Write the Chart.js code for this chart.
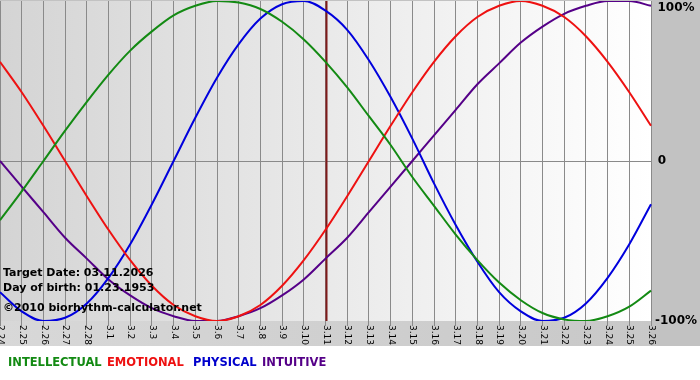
<!DOCTYPE html>
<html>
<head>
<meta charset="utf-8">
<script src="https://cdn.jsdelivr.net/npm/chart.js@4/dist/chart.umd.min.js"></script>
<style>
  html, body { margin: 0; padding: 0; background: #fff; }
  #wrap { width: 700px; height: 380px; }
</style>
</head>
<body>
<div id="wrap"><canvas id="bioChart" width="700" height="380"></canvas></div>
<script>
// days shown on the x axis (month.day)
const days = [
  '2.24', '2.25', '2.26', '2.27', '2.28',
  '3.1', '3.2', '3.3', '3.4', '3.5', '3.6', '3.7', '3.8', '3.9', '3.10',
  '3.11', '3.12', '3.13', '3.14', '3.15', '3.16', '3.17', '3.18', '3.19',
  '3.20', '3.21', '3.22', '3.23', '3.24', '3.25', '3.26'
];
const targetDay = '3.11';

// cycle values in percent, one per day
const intellectual = [-37, -19, 0, 19, 37, 54, 69, 81, 91, 97, 100, 99, 95, 87, 76,
  62, 46, 28, 10, -10, -28, -46, -62, -76, -87, -95, -99, -100, -97, -91, -81];
const emotional = [62, 43, 22, 0, -22, -43, -62, -78, -90, -97, -100, -97, -90, -78, -62,
  -43, -22, 0, 22, 43, 62, 78, 90, 97, 100, 97, 90, 78, 62, 43, 22];
const physical = [-82, -94, -100, -98, -89, -73, -52, -27, 0, 27, 52, 73, 89, 98, 100,
  94, 82, 63, 40, 14, -14, -40, -63, -82, -94, -100, -98, -89, -73, -52, -27];
const intuitive = [0, -16, -32, -48, -61, -74, -84, -92, -97, -100, -100, -97, -92, -84, -74,
  -61, -48, -32, -16, 0, 16, 32, 48, 61, 74, 84, 92, 97, 100, 100, 97];

const yTicks = [-100, 0, 100];
const yTickText = { '-100': '-100%', '0': '0', '100': '100%' };

const infoLines = ['Target Date: 03.11.2026', 'Day of birth: 01.23.1953', '\u00a92010 biorhythm-calculator.net'];
const legendItems = [
  { text: 'INTELLECTUAL', color: '#138a13', x: 8 },
  { text: 'EMOTIONAL', color: '#ee1111', x: 107 },
  { text: 'PHYSICAL', color: '#0000cc', x: 193 },
  { text: 'INTUITIVE', color: '#550088', x: 262 }
];

const fam = '"DejaVu Sans", Verdana, sans-serif';

const decor = {
  id: 'decor',
  beforeDraw(chart) {
    const { ctx, chartArea: a } = chart;
    ctx.save();
    ctx.fillStyle = '#ffffff';
    ctx.fillRect(0, 0, chart.width, chart.height);
    // grey frame behind axis labels
    ctx.fillStyle = '#c2c2c2';
    ctx.fillRect(0, 0, chart.width, 346);
    // label band under the plot
    const band = ctx.createLinearGradient(0, 0, a.right, 0);
    band.addColorStop(0, '#d8d8d8');
    band.addColorStop(1, '#c8c8c8');
    ctx.fillStyle = band;
    ctx.fillRect(0, a.bottom, a.right, 346 - a.bottom);
    // plot background
    const g = ctx.createLinearGradient(a.left, 0, a.right, 0);
    g.addColorStop(0, '#d4d4d4');
    g.addColorStop(1, '#ffffff');
    ctx.fillStyle = g;
    ctx.fillRect(a.left, a.top, a.right - a.left, a.bottom - a.top);
    ctx.restore();
  },
  beforeDatasetsDraw(chart) {
    const { ctx, chartArea: a, scales: { x } } = chart;
    const px = Math.round(x.getPixelForValue(days.indexOf(targetDay))) + 0.5;
    ctx.save();
    ctx.strokeStyle = '#7e1a1a';
    ctx.lineWidth = 2;
    ctx.beginPath();
    ctx.moveTo(px, a.top);
    ctx.lineTo(px, a.bottom);
    ctx.stroke();
    ctx.restore();
  },
  afterDraw(chart) {
    const { ctx, chartArea: a, scales: { x, y } } = chart;
    ctx.save();
    // rotated day labels
    ctx.fillStyle = '#000';
    ctx.font = '9px ' + fam;
    ctx.textAlign = 'left';
    ctx.textBaseline = 'middle';
    days.forEach((d, i) => {
      ctx.save();
      ctx.translate(x.getPixelForValue(i) + 0.5, a.bottom + 4);
      ctx.rotate(Math.PI / 2);
      ctx.fillText(d, 0, 0);
      ctx.restore();
    });
    // y labels, centred in the right margin
    ctx.font = 'bold 12px ' + fam;
    ctx.textAlign = 'center';
    yTicks.forEach(v => {
      const cx = v === 0 ? 662 : 676;
      const cy = Math.min(Math.max(y.getPixelForValue(v), 8), a.bottom);
      ctx.fillText(yTickText[String(v)], cx, cy);
    });
    // info text
    ctx.textAlign = 'left';
    ctx.font = 'bold 11px ' + fam;
    ctx.textBaseline = 'alphabetic';
    ctx.fillText(infoLines[0], 3, 276);
    ctx.fillText(infoLines[1], 3, 291);
    ctx.fillText(infoLines[2], 3, 311);
    // legend
    ctx.font = 'bold 11.5px ' + fam;
    legendItems.forEach(it => {
      ctx.fillStyle = it.color;
      ctx.fillText(it.text, it.x, 366);
    });
    ctx.restore();
  }
};

const line = (data, color) => ({
  data, borderColor: color, borderWidth: 2, pointRadius: 0,
  cubicInterpolationMode: 'monotone', fill: false
});

new Chart(document.getElementById('bioChart'), {
  type: 'line',
  data: {
    labels: days,
    datasets: [
      line(intellectual, '#138a13'),
      line(emotional, '#ee1111'),
      line(physical, '#0000dd'),
      line(intuitive, '#550088')
    ]
  },
  options: {
    responsive: false,
    animation: false,
    devicePixelRatio: 1,
    layout: { padding: { top: 1, left: 0, right: 0, bottom: 0 } },
    plugins: { legend: { display: false }, tooltip: { enabled: false } },
    scales: {
      x: {
        type: 'category',
        offset: false,
        border: { display: false },
        grid: { color: '#8a8a8a', lineWidth: 1, tickLength: 5, drawTicks: true },
        ticks: { display: false },
        afterFit(s) { s.height = 59; s.paddingLeft = 0; s.paddingRight = 0; }
      },
      y: {
        position: 'right',
        min: -100,
        max: 100,
        border: { display: false },
        afterBuildTicks(s) { s.ticks = yTicks.map(v => ({ value: v })); },
        afterFit(s) { s.width = 49; s.paddingTop = 0; s.paddingBottom = 0; },
        grid: {
          drawTicks: false,
          color: c => (c.tick && c.tick.value === 0 ? '#8a8a8a' : 'rgba(0,0,0,0)')
        },
        ticks: { display: false }
      }
    }
  },
  plugins: [decor]
});
</script>
</body>
</html>
